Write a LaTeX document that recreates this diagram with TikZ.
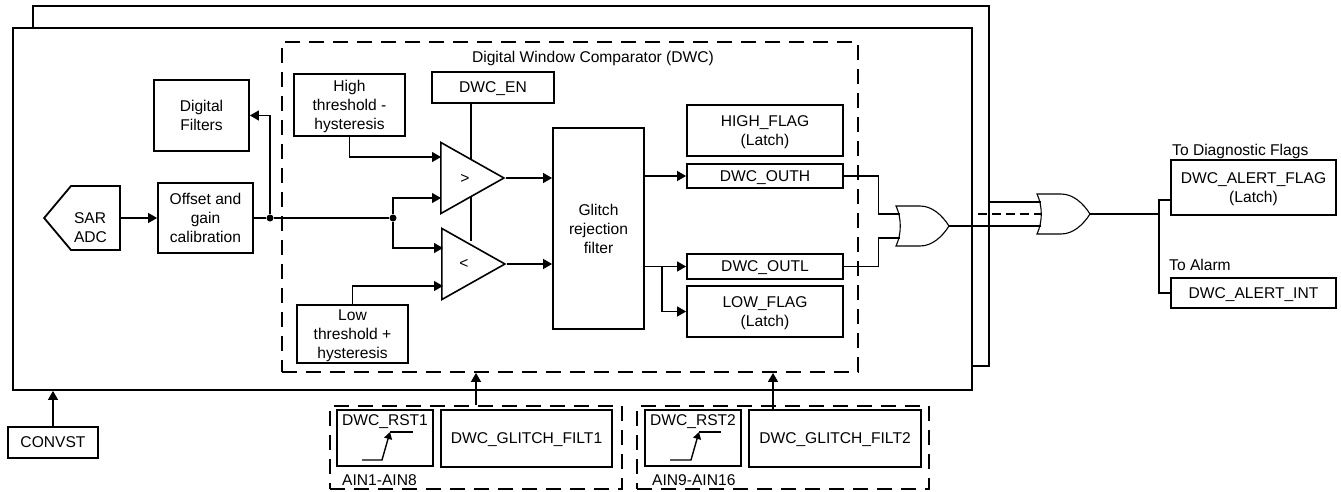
\documentclass[tikz,border=0pt]{standalone}
\usepackage{fontspec}
\setmainfont{Liberation Sans}
\usetikzlibrary{arrows.meta,positioning,calc,shapes.geometric,shapes.symbols}
\begin{document}
\begin{tikzpicture}[x=1pt,y=-1pt,
  every node/.style={font=\fontsize{15.6}{19}\selectfont},
  bx/.style={draw=black,line width=1.8pt,fill=white,align=center,inner sep=0pt,text depth=0pt},
  dsh/.style={draw=black,line width=1.8pt,dash pattern=on 15pt off 9pt,inner sep=0pt},
  lb/.style={inner sep=0pt,text depth=0pt},
  cmp/.style={draw=black,line width=1.6pt,fill=white,isosceles triangle,isosceles triangle stretches,shape border rotate=0,inner sep=0pt,minimum width=71pt,minimum height=63pt,anchor=apex},
  orgate/.pic={
    \draw[line width=1.1pt] (0,-20) -- (24,-20) .. controls (36,-20) and (46,-11) .. (53,0) .. controls (46,11) and (36,20) .. (24,20) -- (0,20) .. controls (5.7,8) and (5.7,-8) .. (0,-20) -- cycle;
    \coordinate (-in1) at (3.5,-12);
    \coordinate (-in2) at (4.3,0);
    \coordinate (-in3) at (3.5,12);
    \coordinate (-out) at (53,0);},
  dot/.style={circle,fill=black,inner sep=0pt,minimum size=7pt},
  wr/.style={line width=1.1pt},
  ar/.style={-{Triangle[length=9pt,width=10pt]},line width=1.1pt}]
\useasboundingbox (0,0) rectangle (1341,491);
\node[bx,minimum width=956pt,minimum height=360pt] (backbd) at (511,186) {};
\node[bx,minimum width=959pt,minimum height=362pt] (frontbd) at (492.5,209) {};
\node[dsh,minimum width=576pt,minimum height=330pt] (dwc) at (570,207) {};
\node[lb] (dwctitle) at (593,57) {Digital Window Comparator (DWC)};
\node[bx,signal,signal to=west,signal pointer angle=100,minimum height=64pt,text width=43pt,inner xsep=3pt,align=left] (sar) at (95.5,218) {SAR\\ADC};
\node[bx,minimum width=95pt,minimum height=71pt] (filt) at (201.5,115.5) {Digital\\Filters};
\node[bx,minimum width=95pt,minimum height=70pt] (offs) at (205.5,218) {Offset and\\gain\\calibration};
\node[bx,minimum width=111pt,minimum height=62pt] (hth) at (349.5,105) {High\\threshold -\\hysteresis};
\node[bx,minimum width=111pt,minimum height=58pt] (lth) at (352.5,334) {Low\\threshold +\\hysteresis};
\node[bx,minimum width=122pt,minimum height=31pt] (en) at (493,87.5) {DWC\_EN};
\coordinate (enlow) at (471,241);
\draw[wr] (enlow |- en.south) -- (enlow);
\node[cmp] (cmph) at (506,178) {};
\node[cmp] (cmpl) at (507,264) {};
\node[lb] (cmpht) at (465,179) {>};
\node[lb] (cmplt) at (464,264) {<};
\node[bx,minimum width=91pt,minimum height=201pt] (glitch) at (598.5,228.5) {Glitch\\rejection\\filter};
\node[bx,minimum width=156pt,minimum height=51pt] (hif) at (765,130.5) {HIGH\_FLAG\\(Latch)};
\node[bx,minimum width=156pt,minimum height=24pt] (outh) at (765,176) {DWC\_OUTH};
\node[bx,minimum width=156pt,minimum height=25pt] (outl) at (765,266.5) {DWC\_OUTL};
\node[bx,minimum width=156pt,minimum height=51pt] (lowf) at (765,311.5) {LOW\_FLAG\\(Latch)};
\pic (or1) at (896,226) {orgate};
\pic (or2) at (1037,214) {orgate};
\node[bx,minimum width=165pt,minimum height=55pt] (alflag) at (1253.5,187.5) {DWC\_ALERT\_FLAG\\(Latch)};
\node[bx,minimum width=165pt,minimum height=30pt] (alint) at (1253.5,293) {DWC\_ALERT\_INT};
\node[lb,anchor=west] (todiag) at (1172,150) {To Diagnostic Flags};
\node[lb,anchor=west] (toalarm) at (1169,265) {To Alarm};
\node[bx,minimum width=90pt,minimum height=31pt] (conv) at (53,442.5) {CONVST};
\node[dsh,minimum width=292pt,minimum height=83pt] (dg1) at (476,447.5) {};
\node[dsh,minimum width=292pt,minimum height=83pt] (dg2) at (783,447.5) {};
\node[bx,minimum width=96pt,minimum height=56pt] (rst1) at (385,438) {};
\node[bx,minimum width=96pt,minimum height=56pt] (rst2) at (693,438) {};
\node[lb] (rst1t) at (385,420) {DWC\_RST1};
\node[lb] (rst2t) at (693,420) {DWC\_RST2};
\node[bx,minimum width=171pt,minimum height=57pt] (gl1) at (526.5,438.5) {DWC\_GLITCH\_FILT1};
\node[bx,minimum width=172pt,minimum height=57pt] (gl2) at (835,438.5) {DWC\_GLITCH\_FILT2};
\node[lb,anchor=west] (ain1) at (342,480) {AIN1-AIN8};
\node[lb,anchor=west] (ain2) at (652,480) {AIN9-AIN16};
\node[dot] (j1) at (270,218) {};
\node[dot] (j2) at (393,218) {};
\coordinate (cmphin1) at (441,157);
\coordinate (cmphin2) at (441,198);
\coordinate (cmplin1) at (443,248);
\coordinate (cmplin2) at (443,286);
\coordinate (lowsplit) at (662,266.5);
\coordinate (dashst) at (978,214);
\coordinate (alsplit) at (1159,214);
\coordinate (alflagin) at (1171,200);
\coordinate (gl2out) at (773,410);
\draw[ar] (sar.east) -- (offs.west);
\draw[wr] (offs.east) -- (j1) -- (j2);
\draw[ar] (j1) |- (filt.east);
\draw[ar] (hth.south) |- (cmphin1);
\draw[ar] (j2) |- (cmphin2);
\draw[ar] (j2) |- (cmplin1);
\draw[ar] (lth.north) |- (cmplin2);
\draw[ar] (cmph.apex) -- (glitch.west |- cmph.apex);
\draw[ar] (cmpl.apex) -- (glitch.west |- cmpl.apex);
\draw[ar] (glitch.east |- outh.west) -- (outh.west);
\draw[ar] (glitch.east |- outl.west) -- (outl.west);
\draw[ar] (lowsplit) |- (lowf.west);
\draw[wr] (outh.east) -- ++(35,0) |- (or1-in1);
\draw[wr] (outl.east) -- ++(35,0) |- (or1-in3);
\draw[wr] (or1-out) -- (or2-in3);
\draw[wr] (backbd.east |- or2-in1) -- (or2-in1);
\draw[wr,dash pattern=on 9pt off 5pt] (dashst) -- (or2-in2);
\draw[wr] (or2-out) -- (alsplit);
\draw[wr] (alflagin) -| (alsplit) |- (alint.west);
\draw[ar] (conv.north) -- (frontbd.south -| conv.north);
\draw[ar] (dg1.north) -- (dwc.south -| dg1.north);
\draw[ar] (gl2out) -- (dwc.south -| gl2out);
\draw[-{Triangle[length=7pt,width=8pt]},line width=1.4pt] (362,460) -- (382,460) -- (390,432);
\draw[line width=1.4pt] (390,432) -- (413,432);
\draw[-{Triangle[length=7pt,width=8pt]},line width=1.4pt] (670,460) -- (691,460) -- (699,432);
\draw[line width=1.4pt] (699,432) -- (721,432);
\end{tikzpicture}
\end{document}
